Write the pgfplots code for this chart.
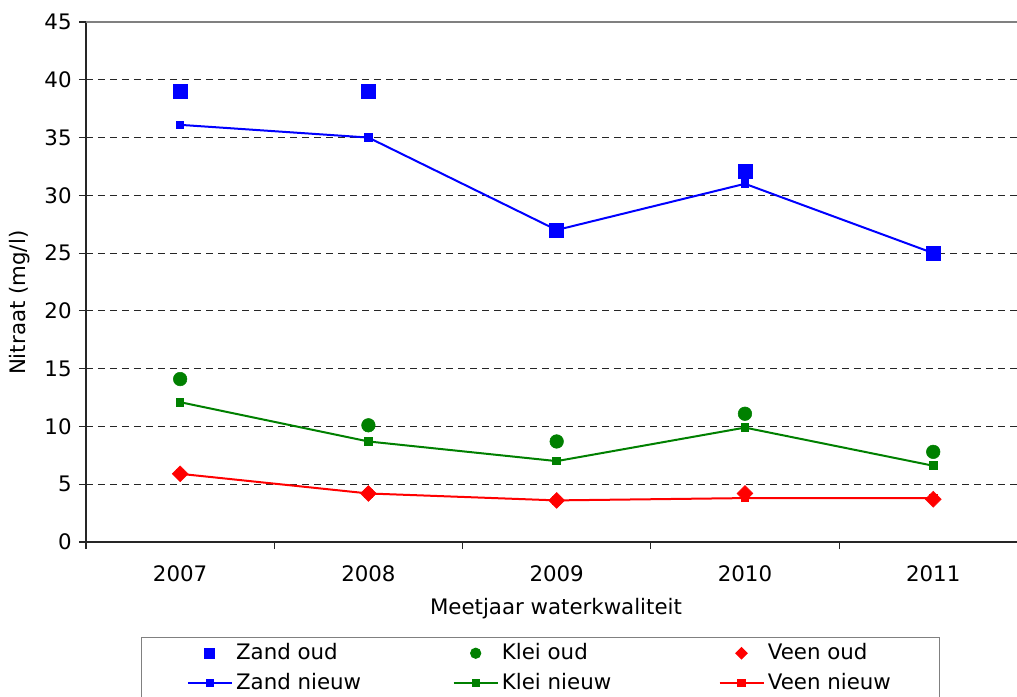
\documentclass[border=0pt]{standalone}
\usepackage{pgfplots}
\pgfplotsset{compat=1.18}
\usepackage{fontspec}
\setmainfont{DejaVu Sans}
\definecolor{xblue}{RGB}{0,0,255}
\definecolor{xgreen}{RGB}{0,128,0}
\definecolor{xred}{RGB}{255,0,0}
\begin{document}
\fontsize{16pt}{19pt}\selectfont
\begin{tikzpicture}
\begin{axis}[
 at={(0,0)}, anchor=south west,
 scale only axis,
 width=698.25pt, height=390pt,
 xmin=-0.5, xmax=4.445, ymin=0, ymax=45,
 axis x line=bottom, axis y line=left,
 axis line style={-, black!85, line width=0.8pt},
 xtick={0,1,2,3,4}, xticklabels={2007,2008,2009,2010,2011},
 minor xtick={-0.5,0.5,1.5,2.5,3.5},
 major x tick style={draw=none},
 minor tick length=5.25pt,
 major tick length=5.25pt,
 tick align=outside,
 tick style={black!85, line width=0.8pt},
 ytick={0,5,...,40},
 extra y ticks={45},
 extra y tick style={grid style={solid, gray, line width=0.8pt}},
 ymajorgrids,
 grid style={black!85, dash pattern=on 5.5pt off 3.5pt, line width=0.7pt},
 /pgf/number format/assume math mode=true,
 ticklabel style={font=\fontsize{16pt}{19pt}\selectfont},
 xticklabel style={yshift=-7pt},
 xlabel={Meetjaar waterkwaliteit},
 ylabel={Nitraat (mg/l)},
 label style={font=\fontsize{16pt}{19pt}\selectfont},
 xlabel style={at={(axis description cs:0.5048,-0.128)}, anchor=center},
 ylabel style={at={(axis description cs:-0.0709,0.46)}, anchor=center},
 legend columns=3,
 legend image code/.code={\draw[mark repeat=2,mark phase=2] plot coordinates {(0pt,0pt)(16.5pt,0pt)(33pt,0pt)};},
 legend style={at={(axis description cs:0.0591,-0.1827)}, anchor=north west,
   draw=gray, line width=0.8pt, font=\fontsize{16pt}{19pt}\selectfont,
   row sep=3.5pt, inner xsep=34pt, inner ysep=2.5pt, cells={anchor=west},
   nodes={inner xsep=2.5pt}},
]
\addlegendimage{only marks, mark=square*, mark size=3.8pt, color=xblue, draw=xblue}
\addlegendentry{\makebox[160pt][l]{Zand oud}}
\addlegendimage{only marks, mark=*, mark size=3.8pt, color=xgreen, draw=xgreen}
\addlegendentry{\makebox[160pt][l]{Klei oud}}
\addlegendimage{only marks, mark=square*, mark options={rotate=45}, mark size=3pt, color=xred, draw=xred}
\addlegendentry{Veen oud}
\addlegendimage{mark=square*, mark size=2.4pt, color=xblue, draw=xblue, line width=1.4pt}
\addlegendentry{\makebox[160pt][l]{Zand nieuw}}
\addlegendimage{mark=square*, mark size=2.4pt, color=xgreen, draw=xgreen, line width=1.4pt}
\addlegendentry{\makebox[160pt][l]{Klei nieuw}}
\addlegendimage{mark=square*, mark size=2.4pt, color=xred, draw=xred, line width=1.4pt}
\addlegendentry{Veen nieuw}

% nieuw (lines)
\addplot[forget plot, color=xblue, line width=1.5pt, mark=square*, mark size=2.5pt] coordinates {(0,36.1)(1,35.0)(2,27.0)(3,31.0)(4,25.0)};
\addplot[forget plot, color=xgreen, line width=1.5pt, mark=square*, mark size=2.5pt] coordinates {(0,12.1)(1,8.7)(2,7.0)(3,9.9)(4,6.6)};
\addplot[forget plot, color=xred, line width=1.5pt, mark=square*, mark size=2.5pt] coordinates {(0,5.9)(1,4.2)(2,3.6)(3,3.8)(4,3.8)};
% oud (markers)
\addplot[forget plot, only marks, color=xblue, mark=square*, mark size=5.2pt] coordinates {(0,39.0)(1,39.0)(2,27.0)(3,32.1)(4,25.0)};
\addplot[forget plot, only marks, color=xgreen, mark=*, mark size=5.1pt] coordinates {(0,14.1)(1,10.1)(2,8.7)(3,11.1)(4,7.8)};
\addplot[forget plot, only marks, color=xred, mark=square*, mark options={rotate=45}, mark size=4.2pt] coordinates {(0,5.9)(1,4.2)(2,3.6)(3,4.2)(4,3.7)};
\end{axis}
\pgfresetboundingbox
\path[use as bounding box] (-64.5pt,-115.5pt) rectangle (698.25pt,406.5pt);
\end{tikzpicture}
\end{document}
